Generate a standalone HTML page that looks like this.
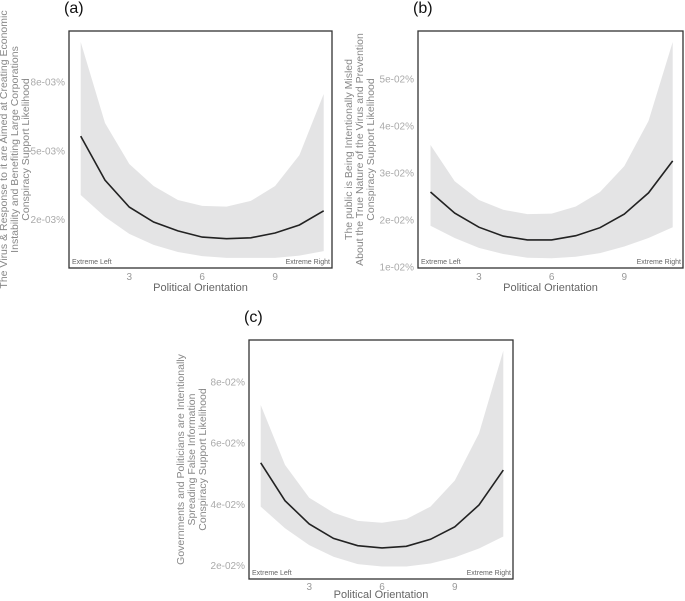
<!DOCTYPE html>
<html><head><meta charset="utf-8"><style>
html,body{margin:0;padding:0;background:#fff;}
svg{display:block;font-family:"Liberation Sans",sans-serif;}
</style></head><body>
<svg id="c" width="685" height="601" viewBox="0 0 685 601"></svg>
<script>
const xs = [1,2,3,4,5,6,7,8,9,10,11];
const aFit = [5.62,3.70,2.52,1.87,1.48,1.21,1.14,1.18,1.39,1.74,2.36];
const aUp = [9.73,6.19,4.40,3.44,2.83,2.57,2.54,2.79,3.44,4.79,7.46];
const aLo = [3.05,2.09,1.35,0.87,0.56,0.38,0.30,0.30,0.30,0.40,0.60];
const bFit = [2.59,2.14,1.84,1.65,1.57,1.57,1.66,1.83,2.12,2.57,3.25];
const bUp = [3.59,2.82,2.42,2.21,2.12,2.13,2.28,2.59,3.14,4.10,5.78];
const bLo = [1.87,1.61,1.40,1.27,1.19,1.18,1.21,1.29,1.43,1.61,1.84];
const cFit = [5.34,4.10,3.34,2.87,2.63,2.56,2.61,2.84,3.25,3.96,5.10];
const cUp = [7.23,5.27,4.20,3.71,3.44,3.38,3.50,3.91,4.76,6.30,9.0];
const cLo = [3.91,3.20,2.65,2.27,2.03,1.95,1.95,2.05,2.25,2.54,2.93];
const xTicks = [3,6,9];
const aYTicks = [2,5,8];
const aYLabels = ["2e-03%","5e-03%","8e-03%"];
const bYTicks = [1,2,3,4,5];
const bYLabels = ["1e-02%","2e-02%","3e-02%","4e-02%","5e-02%"];
const cYTicks = [2,4,6,8];
const cYLabels = ["2e-02%","4e-02%","6e-02%","8e-02%"];

const svg = document.getElementById('c');
const NS = 'http://www.w3.org/2000/svg';
function mk(tag, attrs, parent){
  const e = document.createElementNS(NS, tag);
  for (const k in attrs) e.setAttribute(k, attrs[k]);
  (parent||svg).appendChild(e);
  return e;
}
function panel(p){
  const g = mk('g', {});
  
  
  const sx = v => p.x1 + (v - 1) * (p.x11 - p.x1) / 10;
  const sy = v => p.y0 - (v - p.v0) * p.pxu;
  let d = xs.map((x,i)=>(i?'L':'M')+sx(x).toFixed(1)+','+sy(p.up[i]).toFixed(1)).join(' ');
  for (let i = xs.length-1; i >= 0; i--) d += ' L'+sx(xs[i]).toFixed(1)+','+sy(p.lo[i]).toFixed(1);
  const rib = mk('path', {d: d+' Z', fill:'#e4e4e5', stroke:'none'}, g);
  
  
  const ln = mk('path', {d: xs.map((x,i)=>(i?'L':'M')+sx(x).toFixed(1)+','+sy(p.fit[i]).toFixed(1)).join(' '), fill:'none', stroke:'#222', 'stroke-width':1.6}, g);
  
  
  const box = mk('rect', {x:p.bx0, y:p.by0, width:p.bx1-p.bx0, height:p.by1-p.by0, fill:'none', stroke:'#333', 'stroke-width':1.3}, g);
  
  
  xTicks.forEach(t=>{
    const tx = mk('text', {x:sx(t), y:p.by1+p.tk, 'text-anchor':'middle', 'font-size':10, fill:'#999'}, g);
    tx.textContent = t;
    
    
  });
  p.yt.forEach((t,i)=>{
    const ty = mk('text', {x:p.bx0-4, y:sy(t)+4, 'text-anchor':'end', 'font-size':10, fill:'#aaa'}, g);
    ty.textContent = p.yl[i];
    
    
  });
  const el = mk('text', {x:p.bx0+3, y:p.by1-4, 'font-size':7, fill:'#666'}, g);
  el.textContent = 'Extreme Left';
  
  
  const er = mk('text', {x:p.bx1-2, y:p.by1-4, 'font-size':7, fill:'#666', 'text-anchor':'end'}, g);
  er.textContent = 'Extreme Right';
  
  
  const xt = mk('text', {x:(p.bx0+p.bx1)/2, y:p.by1+p.tt, 'text-anchor':'middle', 'font-size':11, fill:'#666'}, g);
  xt.textContent = 'Political Orientation';
  
  
  const cy = (p.by0+p.by1)/2;
  const yt = mk('text', {transform:'translate('+p.tx+','+cy+') rotate(-90)', 'text-anchor':'middle', 'font-size':10.5, fill:'#888'}, g);
  
  
  p.title.forEach((s,i)=>{
    const ts = mk('tspan', {x:0, y:i*11}, yt);
    ts.textContent = s;
  });
  const lab = mk('text', {x:p.bx0-5, y:p.by0-18, 'font-size':16, fill:'#111'}, g);
  lab.textContent = '(' + p.id + ')';
  
  
}
panel({id:'a', x1:80.7, x11:323.7, y0:219, v0:2, pxu:22.9, bx0:69, bx1:332, by0:31, by1:268, tk:12, tt:23,
  fit:aFit, up:aUp, lo:aLo, yt:aYTicks, yl:aYLabels, tx:7,
  title:["The Virus & Response to it are Aimed at Creating Economic","Instability and Benefiting Large Corporations","Conspiracy Support Likelihood"]});
panel({id:'b', x1:430.5, x11:672.7, y0:219.7, v0:2, pxu:47, bx0:418, bx1:683, by0:31, by1:268, tk:12, tt:23,
  fit:bFit, up:bUp, lo:bLo, yt:bYTicks, yl:bYLabels, tx:352,
  title:["The public is Being Intentionally Misled","About the True Nature of the Virus and Prevention","Conspiracy Support Likelihood"]});
panel({id:'c', x1:260.7, x11:503.3, y0:565, v0:2, pxu:30.6, bx0:249, bx1:513, by0:340, by1:579, tk:11, tt:19,
  fit:cFit, up:cUp, lo:cLo, yt:cYTicks, yl:cYLabels, tx:184,
  title:["Governments and Politicians are Intentionally","Spreading False Information","Conspiracy Support Likelihood"]});
</script>
</body></html>
